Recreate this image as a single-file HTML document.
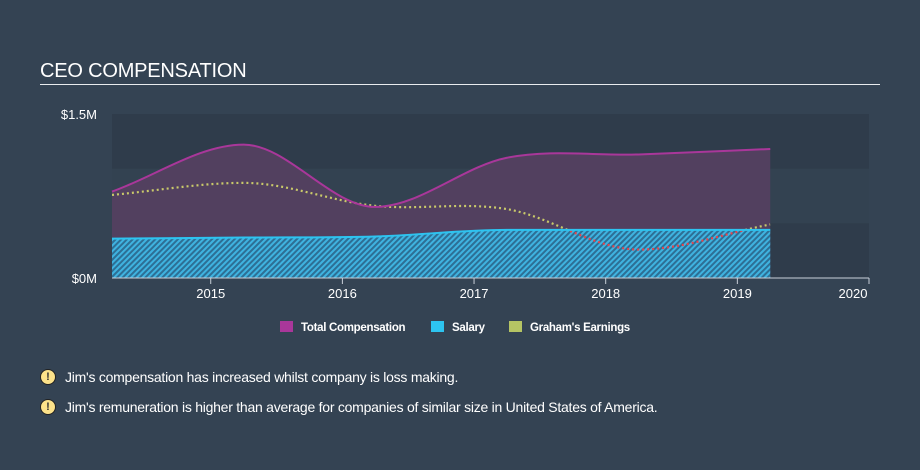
<!DOCTYPE html>
<html><head><meta charset="utf-8"><style>
body{margin:0;width:920px;height:470px;background:#344353;font-family:"Liberation Sans",sans-serif;overflow:hidden;position:relative}
.title{position:absolute;left:40px;top:60px;color:#fff;font-size:20px;letter-spacing:-0.2px}
.rule{position:absolute;left:40px;top:84px;width:840px;height:1px;background:#e8ebee}
.note{position:absolute;left:40px;color:#fff;font-size:14px;letter-spacing:-0.25px;display:flex;align-items:center}
.ic{width:14px;height:14px;border-radius:50%;background:#fce28a;border:1px solid #222;color:#333;font-size:11px;font-weight:bold;text-align:center;line-height:14px;margin-right:9px;letter-spacing:0}
</style></head><body>
<div class="title">CEO COMPENSATION</div>
<div class="rule"></div>
<svg id="chart" width="920" height="340" style="position:absolute;left:0;top:0"></svg>
<div class="note" style="top:369px"><span class="ic">!</span>Jim's compensation has increased whilst company is loss making.</div>
<div class="note" style="top:399px"><span class="ic">!</span>Jim's remuneration is higher than average for companies of similar size in United States of America.</div>
<script>
const years=[2014.25,2015.25,2016.25,2017.25,2018.25,2019.25];
const totalComp=[0.79,1.22,0.65,1.10,1.13,1.18];
const salary=[0.36,0.37,0.38,0.44,0.44,0.44];
const earnings=[0.76,0.87,0.66,0.63,0.26,0.49];
const xTicks=[2015,2016,2017,2018,2019,2020];
const yTickVals=[0,1.5];
const yTickLabels=["$0M","$1.5M"];
const legendLabels=["Total Compensation","Salary","Graham's Earnings"];
const legendColors=["#a9379a","#2dc4f0","#b5c464"];

const NS="http://www.w3.org/2000/svg";
const svg=document.getElementById('chart');
const X0=112,X1=869,Y0=278,Y1=114;
const x=v=>X0+(v-2014.25)/(2020-2014.25)*(X1-X0);
const y=v=>Y0-v/1.5*(Y0-Y1);
function mk(t,a){const e=document.createElementNS(NS,t);for(const k in a)e.setAttribute(k,a[k]);svg.appendChild(e);return e;}
function curve(xs,ys){
  const n=xs.length,px=xs.map(x),py=ys.map(y);const d=[],m=[];
  for(let i=0;i<n-1;i++)d.push((py[i+1]-py[i])/(px[i+1]-px[i]));
  for(let i=0;i<n;i++){if(i==0)m.push(d[0]);else if(i==n-1)m.push(d[n-2]);else m.push(d[i-1]*d[i]<=0?0:(d[i-1]+d[i])/2);}
  let s=`M${px[0]},${py[0]}`;
  for(let i=0;i<n-1;i++){const h=(px[i+1]-px[i])/3;s+=` C${px[i]+h},${py[i]+m[i]*h} ${px[i+1]-h},${py[i+1]-m[i+1]*h} ${px[i+1]},${py[i+1]}`;}
  return s;
}
const defs=document.createElementNS(NS,'defs');svg.appendChild(defs);
defs.innerHTML=`<pattern id="hatch" width="4" height="4" patternUnits="userSpaceOnUse" patternTransform="rotate(45)"><rect width="4" height="4" fill="#2d6f95"/><rect width="2" height="4" fill="#3fb3e0"/></pattern>`;
const bg=mk('rect',{x:X0,y:Y1,width:X1-X0,height:Y0-Y1,fill:'#2f3c4b'});

const band=mk('rect',{x:X0,y:y(1.0),width:X1-X0,height:y(0.5)-y(1.0),fill:'#334251'});

const xe=x(years[years.length-1]),xs0=x(years[0]);
const tc=curve(years,totalComp);
const ta=mk('path',{d:tc+` L${xe},${Y0} L${xs0},${Y0} Z`,fill:'#52405f'});

const sc=curve(years,salary);
const sa=mk('path',{d:sc+` L${xe},${Y0} L${xs0},${Y0} Z`,fill:'url(#hatch)'});

const cp=document.createElementNS(NS,'clipPath');cp.id='below';defs.appendChild(cp);
const cpp=document.createElementNS(NS,'path');cpp.setAttribute('d',sc+` L${xe},${Y0+5} L${xs0},${Y0+5} Z`);cp.appendChild(cpp);
const cp2=document.createElementNS(NS,'clipPath');cp2.id='above';defs.appendChild(cp2);
const cpp2=document.createElementNS(NS,'path');cpp2.setAttribute('d',sc+` L${xe},0 L${xs0},0 Z`);cp2.appendChild(cpp2);
const ec=curve(years,earnings);
const el1=mk('path',{d:ec,fill:'none',stroke:'#c9c96a','stroke-width':2.2,'stroke-dasharray':'2 3','clip-path':'url(#above)'});

const el2=mk('path',{d:ec,fill:'none',stroke:'#e8424a','stroke-width':2.2,'stroke-dasharray':'2 3','clip-path':'url(#below)'});

const sl=mk('path',{d:sc,fill:'none',stroke:'#2dc4f0','stroke-width':2});

const tl=mk('path',{d:tc,fill:'none',stroke:'#a9379a','stroke-width':2});

const ax=mk('line',{x1:X0,x2:X1,y1:Y0,y2:Y0,stroke:'#c8cfd8','stroke-width':1});

xTicks.forEach(t=>{
  const tk=mk('line',{x1:x(t),x2:x(t),y1:Y0,y2:Y0+6,stroke:'#c8cfd8'});
  
  const tx=mk('text',{x:t===2020?x(t)-16:x(t),y:Y0+20,fill:'#fff','font-size':13,'text-anchor':'middle'});
  tx.textContent=t;
  
});
yTickVals.forEach((v,i)=>{
  const tx=mk('text',{x:97,y:y(v)+5,fill:'#fff','font-size':13,'text-anchor':'end'});
  tx.textContent=yTickLabels[i];
  
});
const lx=[280,431,509];
legendLabels.forEach((l,i)=>{
  const r=mk('rect',{x:lx[i],y:321,width:13,height:11,fill:legendColors[i]});
  
  const t=mk('text',{x:lx[i]+21,y:331,fill:'#fff','font-size':11.5,'font-weight':'bold','letter-spacing':'-0.3'});
  t.textContent=l;
  
});
</script>
</body></html>
